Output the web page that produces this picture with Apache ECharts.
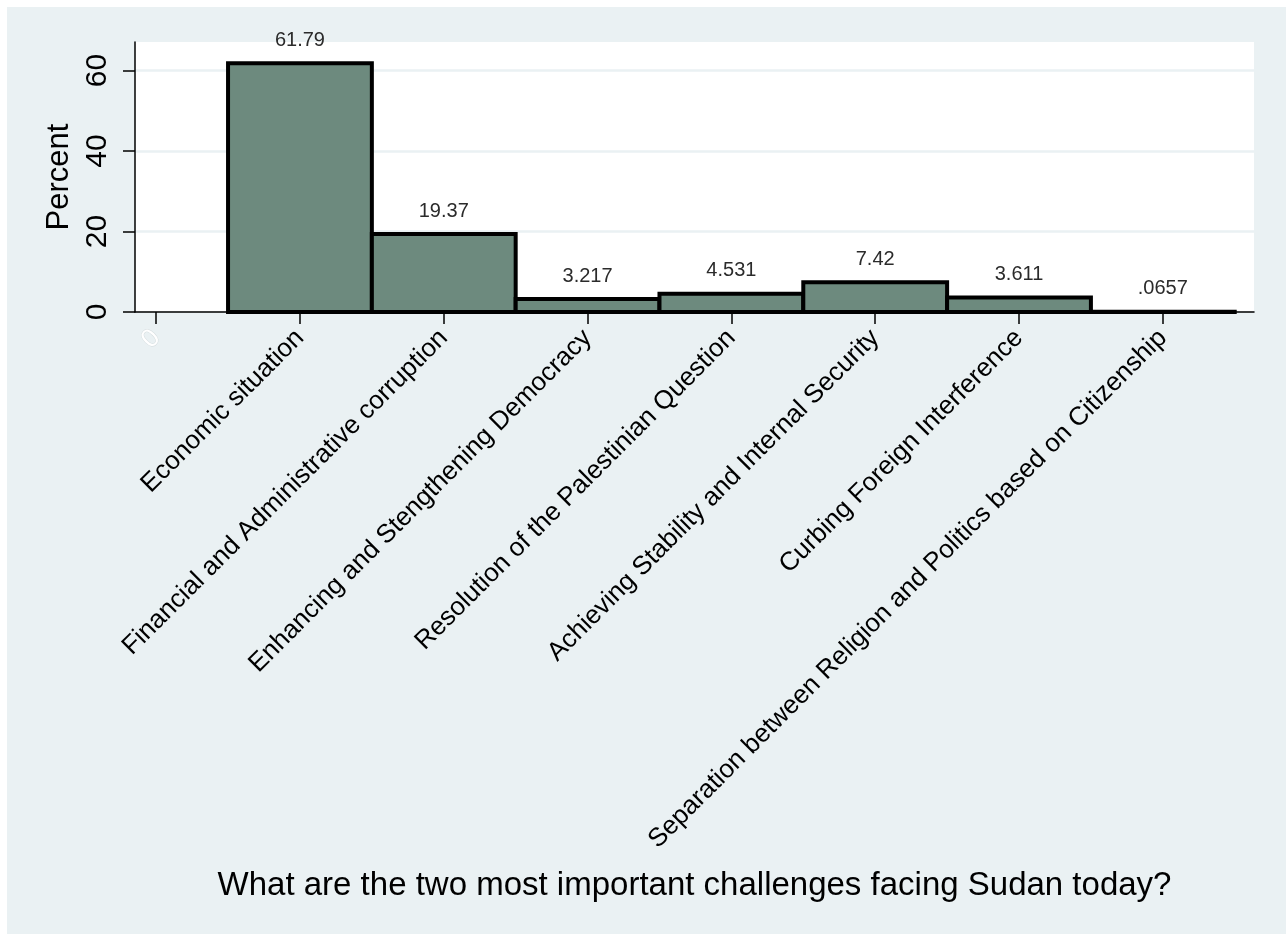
<!DOCTYPE html>
<html>
<head>
<meta charset="utf-8">
<script src="https://cdn.jsdelivr.net/npm/echarts@6/dist/echarts.min.js"></script>
<style>
  html, body { margin: 0; padding: 0; background: #ffffff; }
  #wrap { position: absolute; left: 7px; top: 7px; width: 1279px; height: 927px; background: #eaf1f3; }
  #chart { width: 1279px; height: 927px; }
</style>
</head>
<body>
<div id="wrap"><div id="chart"></div></div>
<script>
// ---- data ----
const categories = [
  "0",
  "Economic situation",
  "Financial and Administrative corruption",
  "Enhancing and Stengthening Democracy",
  "Resolution of the Palestinian Question",
  "Achieving Stability and Internal Security",
  "Curbing Foreign Interference",
  "Separation between Religion and Politics based on Citizenship"
];
const barPositions = [1, 2, 3, 4, 5, 6, 7];
const percentValues = [61.79, 19.37, 3.217, 4.531, 7.42, 3.611, 0.0657];
const yTicks = [0, 20, 40, 60];
const xTicks = [0, 1, 2, 3, 4, 5, 6, 7];
const axisTitleX = "What are the two most important challenges facing Sudan today?";
const axisTitleY = "Percent";

const FONT = '"Liberation Sans", Arial, sans-serif';
const BAR_FILL = '#6d8a7e';

function fmtVal(v) { return String(v).replace(/^0\./, '.'); }

const seriesData = barPositions.map((p, i) => [p, percentValues[i]]);

const chart = echarts.init(document.getElementById('chart'), null, { renderer: 'canvas' });

const option = {
  animation: false,
  backgroundColor: 'transparent',
  textStyle: { fontFamily: FONT },
  grid: {
    left: 128, top: 35, right: 32, bottom: 622,
    show: true, backgroundColor: '#ffffff', borderWidth: 0
  },
  xAxis: {
    type: 'value',
    min: -0.147,
    max: 7.634,
    axisLine: { show: true, onZero: false, lineStyle: { color: '#000', width: 1.5 } },
    axisTick: { show: true, length: 12, customValues: xTicks, lineStyle: { color: '#000', width: 1.5 } },
    splitLine: { show: false },
    axisLabel: {
      customValues: xTicks,
      rotate: 45,
      margin: 22,
      fontSize: 26,
      fontFamily: FONT,
      color: '#000',
      formatter: function (v) {
        const idx = Math.round(v);
        if (idx === 0) return '{w|' + categories[0] + '}';
        return categories[idx] || '';
      },
      rich: {
        w: { color: '#ffffff', fontSize: 26, fontFamily: FONT, textBorderColor: '#d4dcde', textBorderWidth: 1 }
      }
    }
  },
  yAxis: {
    type: 'value',
    min: 0,
    max: 67.1,
    name: axisTitleY,
    nameLocation: 'middle',
    nameGap: 60,
    nameRotate: 90,
    nameTextStyle: { fontSize: 31, color: '#000', fontFamily: FONT },
    axisLine: { show: true, onZero: false, lineStyle: { color: '#000', width: 1.5 } },
    axisTick: { show: true, length: 12, customValues: yTicks, lineStyle: { color: '#000', width: 1.5 } },
    axisLabel: {
      customValues: yTicks,
      rotate: 90,
      margin: 22,
      fontSize: 30,
      fontFamily: FONT,
      color: '#000'
    },
    splitLine: { show: true, lineStyle: { color: '#eaf1f3', width: 2.5 } }
  },
  graphic: [{
    type: 'text',
    x: 687.5,
    y: 862,
    style: {
      text: axisTitleX,
      fontSize: 33,
      fontFamily: FONT,
      fill: '#000',
      align: 'center',
      verticalAlign: 'top'
    }
  }],
  series: [{
    type: 'custom',
    clip: false,
    data: seriesData,
    renderItem: function (params, api) {
      const x = api.value(0), y = api.value(1);
      const pTop = api.coord([x - 0.5, y]);
      const pBot = api.coord([x + 0.5, 0]);
      const cx = (pTop[0] + pBot[0]) / 2;
      return {
        type: 'group',
        children: [
          {
            type: 'rect',
            shape: { x: pTop[0], y: pTop[1], width: pBot[0] - pTop[0], height: pBot[1] - pTop[1] },
            style: { fill: BAR_FILL, stroke: '#000', lineWidth: 4 }
          },
          {
            type: 'text',
            x: cx,
            y: pTop[1] - 13,
            style: {
              text: fmtVal(y),
              fontSize: 20,
              fontFamily: FONT,
              fill: '#2b2b2b',
              align: 'center',
              verticalAlign: 'bottom'
            }
          }
        ]
      };
    }
  }]
};

chart.setOption(option);
</script>
</body>
</html>
